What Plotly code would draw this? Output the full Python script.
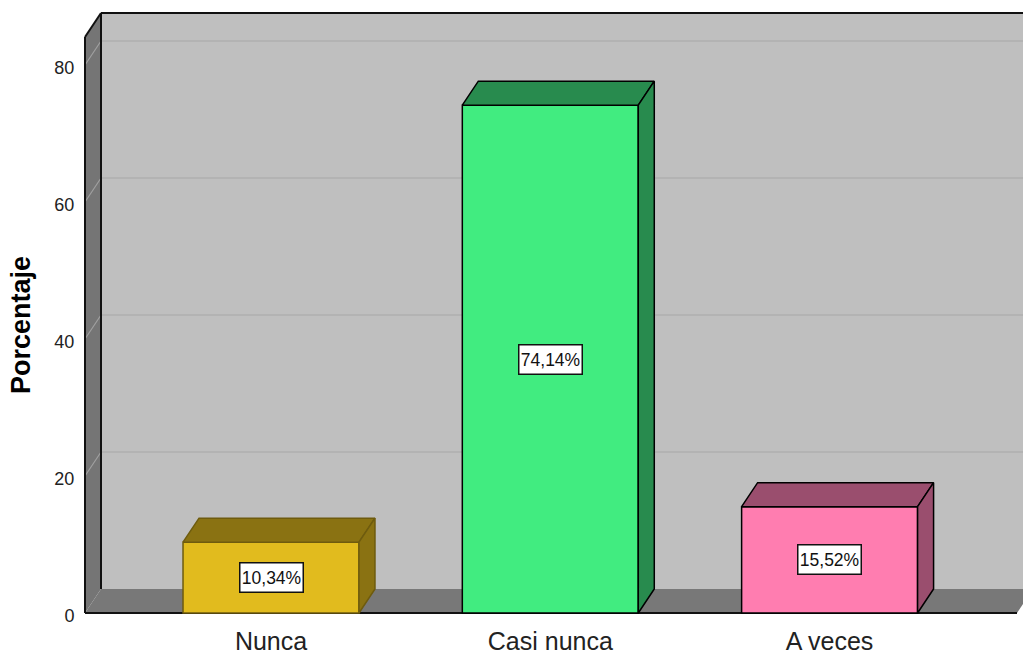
import plotly.graph_objects as go

categories = ["Nunca", "Casi nunca", "A veces"]
percent_values = [10.34, 74.14, 15.52]
percent_labels = ["10,34%", "74,14%", "15,52%"]
y_ticks = [0, 20, 40, 60, 80]
y_title = "Porcentaje"

front_colors = ["#E1BB1E", "#41EC80", "#FF7DB0"]
shade_colors = ["#8A7212", "#288B4E", "#9A4E6E"]
edge_colors = ["#6E5B0E", "#000000", "#000000"]

FONT = "Liberation Sans, Arial, sans-serif"
W, H = 1023, 657
PX_X, PX_Y = 279.3, 6.85        # pixels per category / per percentage point
X_ORIGIN, Y_ORIGIN = 271, 613   # pixel position of first category / of value 0

BAR_W = 0.63
DX, DY = 16 / PX_X, 24 / PX_Y   # depth of the 3D box, in axis units
FRAME_X0 = (85 - X_ORIGIN) / PX_X
FRAME_X1 = (1017 - X_ORIGIN) / PX_X
FRAME_TOP = (Y_ORIGIN - 37) / PX_Y

plot_left, plot_top, plot_bottom = 83, 11, 616
x_range = [(plot_left - X_ORIGIN) / PX_X, (W - X_ORIGIN) / PX_X]
y_range = [(Y_ORIGIN - plot_bottom) / PX_Y, (Y_ORIGIN - plot_top) / PX_Y]


def poly(xs, ys, fill, line="rgba(0,0,0,0)", width=0):
    path = "M " + " L ".join(f"{x},{y}" for x, y in zip(xs, ys)) + " Z"
    return dict(type="path", path=path, xref="x", yref="y", layer="below",
                fillcolor=fill, line=dict(color=line, width=width))


def seg(x0, y0, x1, y1, color, width):
    return dict(type="line", x0=x0, y0=y0, x1=x1, y1=y1, xref="x", yref="y",
                layer="below", line=dict(color=color, width=width))


bx0, bx1 = FRAME_X0 + DX, FRAME_X1 + DX
top_b = FRAME_TOP + DY
shapes = [
    poly([bx0, bx1, bx1, bx0], [DY, DY, top_b, top_b], "#BFBFBF"),
    poly([FRAME_X0, FRAME_X1, bx1, bx0], [0, 0, DY, DY], "#787878"),
    poly([FRAME_X0, bx0, bx0, FRAME_X0], [0, DY, top_b, FRAME_TOP], "#757575"),
]
for t in y_ticks[1:]:
    shapes.append(seg(FRAME_X0, t, bx0, t + DY, "#A0A0A0", 1.2))
    shapes.append(seg(bx0, t + DY, bx1, t + DY, "#A8A8A8", 1.2))
shapes += [
    seg(bx0, DY, bx0, top_b, "#111111", 2),
    seg(bx0, top_b, bx1, top_b, "#111111", 2),
    seg(FRAME_X0, 0, FRAME_X0, FRAME_TOP, "#111111", 2),
    seg(FRAME_X0, FRAME_TOP, bx0, top_b, "#111111", 2),
    seg(FRAME_X0, 0, FRAME_X1, 0, "#111111", 2),
]

positions = list(range(len(categories)))
fig = go.Figure()
fig.add_trace(go.Bar(
    x=positions, y=percent_values, width=BAR_W,
    marker=dict(color=front_colors, line=dict(color=edge_colors, width=1.5)),
    hoverinfo="skip", showlegend=False,
))

for p, v, shade, edge in zip(positions, percent_values, shade_colors, edge_colors):
    l, r = p - BAR_W / 2, p + BAR_W / 2
    fig.add_trace(go.Scatter(
        x=[l, r, r + DX, l + DX, l], y=[v, v, v + DY, v + DY, v],
        mode="lines", fill="toself", fillcolor=shade,
        line=dict(color=edge, width=1.5), hoverinfo="skip", showlegend=False))
    fig.add_trace(go.Scatter(
        x=[r, r + DX, r + DX, r, r], y=[0, DY, v + DY, v, 0],
        mode="lines", fill="toself", fillcolor=shade,
        line=dict(color=edge, width=1.5), hoverinfo="skip", showlegend=False))

annotations = [
    dict(x=p, y=v / 2, text=txt, xref="x", yref="y", showarrow=False,
         font=dict(family=FONT, size=17.5, color="#111111"),
         width=62, height=28,
         bgcolor="#FFFFFF", bordercolor="#111111", borderwidth=1.5, borderpad=0)
    for p, v, txt in zip(positions, percent_values, percent_labels)
]
annotations.append(dict(
    text=f"<b>{y_title}</b>", textangle=-90, showarrow=False,
    xref="paper", yref="paper",
    x=(21 - plot_left) / (W - plot_left),
    y=(plot_bottom - 325) / (plot_bottom - plot_top),
    xanchor="center", yanchor="middle",
    font=dict(family=FONT, size=27, color="#000000")))

fig.update_layout(
    template="none",
    width=W, height=H, autosize=False,
    margin=dict(l=plot_left, r=0, t=plot_top, b=H - plot_bottom, pad=0),
    paper_bgcolor="#FFFFFF", plot_bgcolor="rgba(0,0,0,0)",
    shapes=shapes, annotations=annotations, showlegend=False,
    xaxis=dict(range=x_range, tickmode="array", tickvals=positions,
               ticktext=categories, showgrid=False, zeroline=False, showline=False,
               automargin=False,
               ticks="outside", ticklen=3, tickcolor="rgba(0,0,0,0)",
               tickfont=dict(family=FONT, size=25, color="#222222")),
    yaxis=dict(range=y_range, tickmode="array", tickvals=y_ticks,
               showgrid=False, zeroline=False, showline=False,
               automargin=False,
               ticks="outside", ticklen=4, tickcolor="rgba(0,0,0,0)",
               ticklabelshift=3,
               tickfont=dict(family=FONT, size=18, color="#222222")),
)

fig.write_html("out.html", config={"displayModeBar": False},
               post_script="document.body.style.margin='0';")
